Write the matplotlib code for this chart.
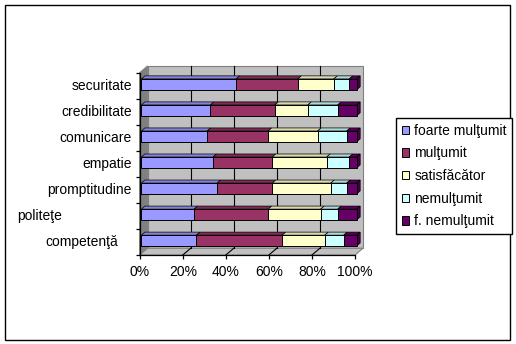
import numpy as np
import matplotlib
matplotlib.use('Agg')
import matplotlib.pyplot as plt
from matplotlib.patches import Polygon, Patch, Rectangle
from matplotlib.lines import Line2D
from matplotlib.transforms import blended_transform_factory

plt.rcParams['font.family'] = ['Liberation Sans', 'DejaVu Sans']

# categories from bottom to top
categories = ['competenţă', 'politeţe', 'promptitudine', 'empatie',
              'comunicare', 'credibilitate', 'securitate']
series_names = ['foarte mulţumit', 'mulţumit', 'satisfăcător',
                'nemulţumit', 'f. nemulţumit']
foarte_multumit = [25.6, 24.5, 35.2, 33.3, 30.6, 32.1, 44.0]
multumit = [39.8, 34.4, 25.6, 27.5, 28.3, 29.9, 28.7]
satisfacator = [19.8, 24.4, 27.2, 25.3, 23.0, 15.3, 16.7]
nemultumit = [8.8, 7.9, 7.4, 10.5, 13.5, 13.9, 7.2]
f_nemultumit = [6.0, 8.8, 4.6, 3.4, 4.6, 8.8, 3.4]
x_ticks = [0, 20, 40, 60, 80, 100]

colors = ['#9999FF', '#993366', '#FFFFCC', '#CCFFFF', '#660066']

# 3d look: depth of the plot box in data units, bar depth fractions
DX, DY = 3.7, 0.26
F0, F1 = 0.2, 0.65
BAR_H = 0.42
FS = 10


def shade(c, k):
    r, g, b = matplotlib.colors.to_rgb(c)
    return (r * k, g * k, b * k)


fig = plt.figure(figsize=(5.16, 3.44), dpi=100)
fig.patch.set_facecolor('white')
fig.patches.append(Rectangle((4.5 / 516, 4.5 / 344), 505.5 / 516, 334.5 / 344,
                             transform=fig.transFigure, fill=False,
                             edgecolor='black', linewidth=1.0))

ax = fig.add_axes([139.7 / 516, 89 / 344, 215.3 / 516, 182.3 / 344])
ax.patch.set_visible(False)
ny = len(categories)
ax.set_xlim(0, 100)
ax.set_ylim(-0.5, ny - 0.5)
y0, y1 = -0.5, ny - 0.5

# walls
wall_kw = dict(closed=True, clip_on=False, edgecolor='#808080', linewidth=0.8)
ax.add_patch(Polygon([(DX, y0 + DY), (100 + DX, y0 + DY), (100 + DX, y1 + DY), (DX, y1 + DY)],
                     facecolor='#C0C0C0', zorder=0, **wall_kw))
ax.add_patch(Polygon([(0, y0), (DX, y0 + DY), (DX, y1 + DY), (0, y1)],
                     facecolor='#808080', zorder=0, **wall_kw))
ax.add_patch(Polygon([(0, y0), (100, y0), (100 + DX, y0 + DY), (DX, y0 + DY)],
                     facecolor='#C0C0C0', zorder=0, **wall_kw))
for xv in x_ticks[1:-1]:
    ax.add_line(Line2D([xv + DX, xv + DX], [y0 + DY, y1 + DY], color='black',
                       linewidth=0.8, zorder=1, clip_on=False))
    ax.add_line(Line2D([xv, xv + DX], [y0, y0 + DY], color='black',
                       linewidth=0.8, zorder=1, clip_on=False))

# stacked bars
data = np.array([foarte_multumit, multumit, satisfacator, nemultumit, f_nemultumit])
data = data / data.sum(axis=0) * 100
ypos = np.arange(ny) + F0 * DY
ddx, ddy = (F1 - F0) * DX, (F1 - F0) * DY
left = np.zeros(ny)
for k, (vals, col) in enumerate(zip(data, colors)):
    lefts = left + F0 * DX
    ax.barh(ypos, vals, left=lefts, height=BAR_H, color=col,
            edgecolor='black', linewidth=0.7, zorder=4, clip_on=False)
    for j in range(ny):
        L, R = lefts[j], lefts[j] + vals[j]
        T, B = ypos[j] + BAR_H / 2, ypos[j] - BAR_H / 2
        ax.add_patch(Polygon([(L, T), (R, T), (R + ddx, T + ddy), (L + ddx, T + ddy)],
                             closed=True, facecolor=shade(col, 0.85), edgecolor='black',
                             linewidth=0.5, zorder=3, clip_on=False))
        if k == len(colors) - 1:
            ax.add_patch(Polygon([(R, B), (R + ddx, B + ddy), (R + ddx, T + ddy), (R, T)],
                                 closed=True, facecolor=shade(col, 0.7), edgecolor='black',
                                 linewidth=0.5, zorder=3, clip_on=False))
    left = left + vals

# axes
for s in ['top', 'right']:
    ax.spines[s].set_visible(False)
for s in ['left', 'bottom']:
    ax.spines[s].set_linewidth(0.9)
    ax.spines[s].set_zorder(5)
ax.set_yticks(np.arange(-0.5, ny, 1.0))
ax.set_yticklabels([])
ax.set_xticks(x_ticks)
ax.set_xticklabels(['%d%%' % v for v in x_ticks], fontsize=FS)
ax.tick_params(direction='out', length=3, width=0.9, pad=4.5)

# category labels (Excel places two of them oddly)
tr = blended_transform_factory(ax.transAxes, ax.transData)
lab_x = {'politeţe': (-0.5685, 'left'), 'competenţă': (-0.1022, 'right')}
for j, name in enumerate(categories):
    xa, ha = lab_x.get(name, (-0.0372, 'right'))
    ax.text(xa, j, name, transform=tr, ha=ha, va='center', fontsize=FS)

handles = [Patch(facecolor=c, edgecolor='black', linewidth=0.7) for c in colors]
leg = fig.legend(handles, series_names, loc='upper left',
                 bbox_to_anchor=(396.3 / 516, 1 - 118.3 / 344), fontsize=FS,
                 handlelength=0.55, handleheight=0.55, handletextpad=0.35,
                 labelspacing=0.62, borderpad=0.4, borderaxespad=0,
                 fancybox=False, framealpha=1)
leg.get_frame().set_edgecolor('black')
leg.get_frame().set_linewidth(1.0)

fig.savefig('out.png', dpi=100)
